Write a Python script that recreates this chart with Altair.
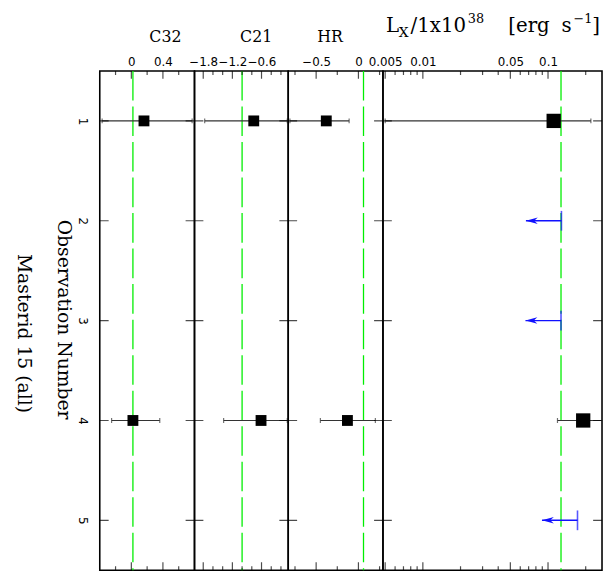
import altair as alt
import pandas as pd

# ---------------- data ----------------
obs = [1, 2, 3, 4, 5]
c32 = [0.16, None, None, 0.02, None]
c32_lo = [-0.37, None, None, -0.25, None]
c32_hi = [0.77, None, None, 0.36, None]
c21 = [-0.76, None, None, -0.61, None]
c21_lo = [-1.77, None, None, -1.38, None]
c21_hi = [-0.07, None, None, -0.07, None]
hr = [-0.38, None, None, -0.13, None]
hr_lo = [-0.81, None, None, -0.45, None]
hr_hi = [-0.11, None, None, 0.20, None]
lx = [0.111, None, None, 0.191, None]
lx_lo = [0.005, None, None, 0.119, None]
lx_hi = [0.22, None, None, 0.35, None]
lx_ul = [None, 0.128, 0.127, None, 0.172]

ref_c32 = 0.02
ref_c21 = -1.0
ref_hr = 0.06
ref_lx = 0.127

dom_c32 = [-0.4, 0.8]
dom_c21 = [-1.98, -0.05]
dom_hr = [-0.83, 0.29]
dom_lx = [0.0048, 0.27]

lab_c32 = [0, 0.4]
lab_c21 = [-1.8, -1.2, -0.6]
lab_hr = [-0.5, 0]
lab_lx = [0.005, 0.01, 0.05, 0.1]

maj_c32 = [0, 0.4]
min_c32 = [-0.2, 0.2, 0.6]
maj_c21 = [-1.8, -1.2, -0.6]
min_c21 = [-1.6, -1.4, -1.0, -0.8, -0.4, -0.2]
maj_hr = [-0.5, 0]
min_hr = [-0.75, -0.25, 0.25]
maj_lx = [0.005, 0.01, 0.05, 0.1]
min_lx = [0.006, 0.007, 0.008, 0.009, 0.02, 0.03, 0.04, 0.06, 0.07, 0.08, 0.09, 0.2]

H = 506
SERIF = "DejaVu Serif"
SANS = "DejaVu Sans"
GREEN = "#00ee00"
BLUE = "#1010ff"
FRAME = alt.ViewBackground(stroke="black", strokeWidth=1.6)

yscale = alt.Scale(domain=[0.5, 5.5], reverse=True, nice=False, zero=False)


def ycode(axis=None):
    return alt.Y("obs:Q", scale=yscale, axis=axis)


def panel(val, lo, hi, ref, dom, labels, fmt, majors, minors, W,
          title="", tx=0, stype="linear", sq=121, yaxis=None, ul=None, extra=None):
    xs = alt.Scale(domain=dom, type=stype, nice=False, zero=False)
    ax = alt.Axis(orient="top", values=labels, format=fmt, title=title,
                  ticks=False, domain=False, grid=False, labelFlush=False,
                  labelOverlap=False, labelPadding=3, labelFont=SANS,
                  labelFontSize=12, labelColor="black",
                  titleFont=SERIF, titleFontSize=16, titleFontWeight="normal",
                  titleColor="black", titleX=tx, titleY=-30,
                  titleAlign="center", titleBaseline="alphabetic")

    def X(f):
        return alt.X(f + ":Q", scale=xs, axis=ax)

    df = pd.DataFrame({"obs": obs, "v": val, "lo": lo, "hi": hi}).dropna()
    layers = []
    layers.append(alt.Chart(pd.DataFrame({"r": [ref]})).mark_rule(
        color=GREEN, strokeWidth=1.3, strokeDash=[30, 6]).encode(x=X("r")))
    base = alt.Chart(df)
    layers.append(base.mark_rule(color="#333333", strokeWidth=1.1, clip=True).encode(
        x=X("lo"), x2="hi:Q", y=ycode(yaxis)))
    layers.append(base.mark_tick(orient="vertical", size=5, thickness=1.2,
                                 color="#333333", clip=True).encode(x=X("lo"), y=ycode(yaxis)))
    layers.append(base.mark_tick(orient="vertical", size=5, thickness=1.2,
                                 color="#333333", clip=True).encode(x=X("hi"), y=ycode(yaxis)))
    layers.append(base.mark_square(size=sq, color="black", opacity=1, filled=True).encode(
        x=X("v"), y=ycode(yaxis)))
    if ul is not None:
        du = pd.DataFrame({"obs": obs, "ul": ul}).dropna()
        bu = alt.Chart(du)
        layers.append(bu.mark_rule(color=BLUE, strokeWidth=1.5, x2Offset=-36).encode(
            x=X("ul"), x2="ul:Q", y=ycode(yaxis)))
        layers.append(bu.mark_point(shape="M0,0L2,-0.55L1.4,0L2,0.55Z", filled=True,
                                    color=BLUE, opacity=1, size=144, xOffset=-36).encode(
            x=X("ul"), y=ycode(yaxis)))
        layers.append(bu.mark_tick(orient="vertical", size=20, thickness=1.6,
                                   color=BLUE).encode(x=X("ul"), y=ycode(yaxis)))
    # x ticks (inward)
    dmaj = pd.DataFrame({"t": majors})
    dmin = pd.DataFrame({"t": minors})
    for d, s in ((dmaj, 16), (dmin, 8)):
        for yv in (0, H):
            layers.append(alt.Chart(d).mark_tick(orient="vertical", size=s, thickness=1.2,
                                                 color="black", clip=True).encode(
                x=X("t"), y=alt.value(yv)))
    # y ticks (inward) on both sides
    dob = pd.DataFrame({"obs": obs})
    for xv in (0, W):
        layers.append(alt.Chart(dob).mark_tick(orient="horizontal", size=18, thickness=1.2,
                                               color="black", clip=True).encode(
            x=alt.value(xv), y=ycode(yaxis)))
    if extra:
        layers.extend(extra)
    return alt.layer(*layers).properties(width=W, height=H, view=FRAME)


one = alt.Data(values=[{"a": 1}])


def txt(s, x, y, size, angle=0, align="center", baseline="middle"):
    return alt.Chart(one).mark_text(text=s, font=SERIF, fontSize=size, angle=angle,
                                    align=align, baseline=baseline, color="black").encode(
        x=alt.value(x), y=alt.value(y))


yax = alt.Axis(values=obs, format="d", labelAngle=90, ticks=False, domain=False,
               grid=False, title=None, labelPadding=13, labelFont=SANS,
               labelFontSize=12, labelColor="black")

left_text = [
    txt("Observation Number", -36, 252, 19, angle=90),
    txt("Masterid 15 (all)", -77, 266, 19, angle=90),
]

lx_title = [
    txt("L", 3, -39, 20, align="left", baseline="alphabetic"),
    txt("X", 16, -34, 14, align="left", baseline="alphabetic"),
    txt("/1x10", 28, -39, 20, align="left", baseline="alphabetic"),
    txt("38", 86, -59, 13, align="left", baseline="top"),
    txt("[erg", 127, -39, 20, align="left", baseline="alphabetic"),
    txt("s", 181, -39, 20, align="left", baseline="alphabetic"),
    txt("\u22121", 193, -59, 13, align="left", baseline="top"),
    txt("]", 212, -39, 20, align="left", baseline="alphabetic"),
]

p1 = panel(c32, c32_lo, c32_hi, ref_c32, dom_c32, lab_c32, ".1~f", maj_c32, min_c32, 96,
           title="C32", tx=66, yaxis=yax, extra=left_text)
p2 = panel(c21, c21_lo, c21_hi, ref_c21, dom_c21, lab_c21, ".1f", maj_c21, min_c21, 95,
           title="C21", tx=62)
p3 = panel(hr, hr_lo, hr_hi, ref_hr, dom_hr, lab_hr, ".1~f", maj_hr, min_hr, 96,
           title="HR", tx=42)
p4 = panel(lx, lx_lo, lx_hi, ref_lx, dom_lx, lab_lx, ".3~f", maj_lx, min_lx, 222,
           title="", stype="log", sq=210, ul=lx_ul, extra=lx_title)

chart = alt.hconcat(p1, p2, p3, p4, spacing=0, bounds="flush").resolve_scale(
    x="independent").properties(
    padding={"left": 5, "top": 0, "right": 0, "bottom": 0}
).configure(background="white").configure_view(stroke="black", strokeWidth=1.6)

chart.save("out.html", embed_options={"renderer": "svg", "actions": False})
